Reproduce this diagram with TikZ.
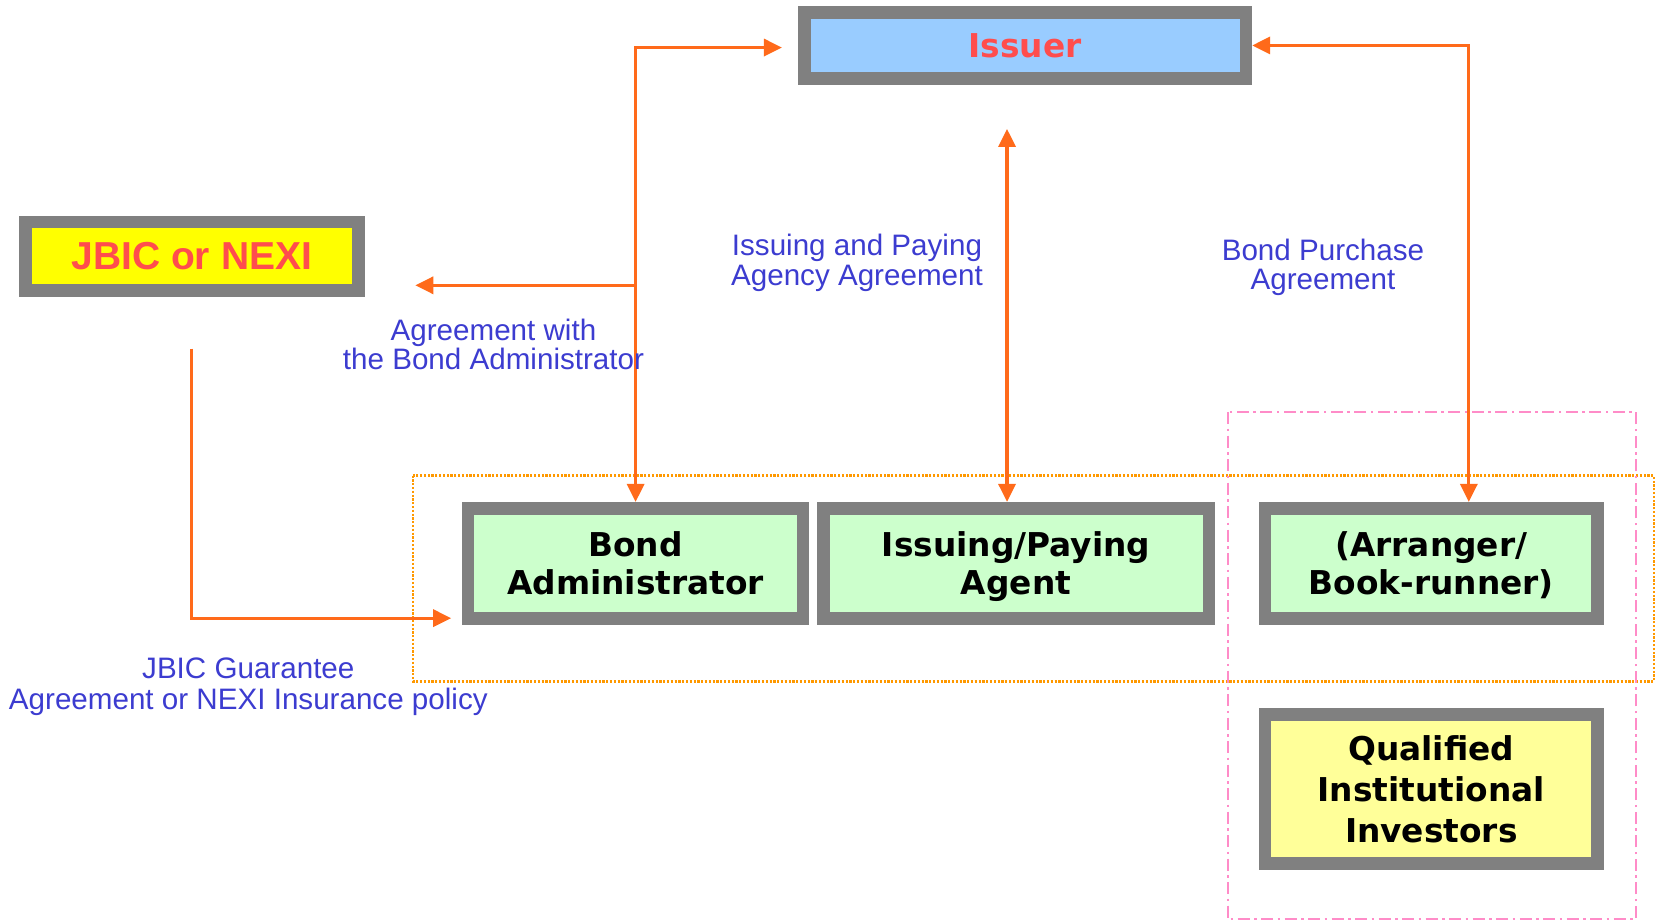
\documentclass[tikz,border=0pt]{standalone}
\usepackage{fontspec}
\setmainfont{Liberation Sans}
\newfontfamily\boxfont{DejaVu Sans}
\usetikzlibrary{arrows.meta}
\definecolor{boxgray}{HTML}{808080}
\definecolor{issuerblue}{HTML}{99CCFF}
\definecolor{jbicyellow}{HTML}{FFFF00}
\definecolor{paleyellow}{HTML}{FFFF99}
\definecolor{palegreen}{HTML}{CCFFCC}
\definecolor{redtext}{HTML}{FF4D4D}
\definecolor{labelblue}{HTML}{3C3CD0}
\definecolor{arroworange}{HTML}{FF6A1A}
\definecolor{dotorange}{HTML}{FF9900}
\definecolor{dashpink}{HTML}{FF8CC8}
\tikzset{
  gbox/.style={draw=boxgray, line width=12.7pt, inner sep=0pt, align=center, text depth=0pt},
  boxtext/.style={font=\boxfont\bfseries\fontsize{32.8}{38}\selectfont},
  lbl/.style={text=labelblue, align=center, inner sep=0pt, font=\fontsize{29.6}{29.6}\selectfont},
  arr/.style={draw=arroworange, line width=3.2pt, -{Triangle[length=18pt,width=17pt]}},
  darr/.style={draw=arroworange, line width=3.2pt, {Triangle[length=18pt,width=17pt]}-{Triangle[length=18pt,width=17pt]}},
}
\begin{document}
\begin{tikzpicture}[x=1.0567pt,y=-1.0567pt]
\useasboundingbox (0,0) rectangle (1568.1,870.6);
% group frames
\draw[dotorange, line width=2.2pt, dash pattern=on 2.2pt off 1.6pt] (391,450) rectangle (1565,645);
\draw[dashpink, line width=1.7pt, dash pattern=on 12pt off 4.5pt on 2.5pt off 4.5pt] (1162,390) rectangle (1548,870);
% boxes
\node[gbox, fill=issuerblue, minimum width=441.7pt, minimum height=65.5pt,
      font=\boxfont\bfseries\fontsize{32.8}{38}\selectfont, text=redtext] (issuer) at (970,43) {Issuer};
\node[gbox, fill=jbicyellow, minimum width=332.9pt, minimum height=68.7pt,
      font=\bfseries\fontsize{39}{40}\selectfont, text=redtext] (jbic) at (181.5,242.5) {JBIC or NEXI};
\node[gbox, boxtext, fill=palegreen, minimum width=335pt, minimum height=109.9pt] (ba) at (601.5,533) {Bond\\Administrator};
\node[gbox, boxtext, fill=palegreen, minimum width=385.7pt, minimum height=109.9pt] (ipa) at (961.5,533) {Issuing/Paying\\Agent};
\node[gbox, boxtext, fill=palegreen, minimum width=332.9pt, minimum height=109.9pt] (ar) at (1354.5,533) {(Arranger/\\Book-runner)};
\node[gbox, fill=paleyellow, minimum width=332.9pt, minimum height=149pt,
      font=\boxfont\bfseries\fontsize{32.8}{41.2}\selectfont] (qii) at (1354.5,746.5) {Qualified\\Institutional\\Investors};
% connector points
\coordinate (issL) at (740,45);
\coordinate (branch) at (601,270);
\coordinate (jbicR) at (393,270);
\coordinate (issB) at (953,122);
\coordinate (arTop) at (1390,475);
\coordinate (jbicB) at (181,330);
\coordinate (baL) at (427,585);
% connectors
\draw[darr] (issL) -| (ba.north);
\draw[arr] (branch) -- (jbicR);
\draw[darr] (issB) -- (issB |- ipa.north);
\draw[darr] (issuer.east) -| (arTop);
\draw[arr] (jbicB) |- (baL);
% labels
\node[lbl] (l1) at (467,326) {Agreement with\\the Bond Administrator};
\node[lbl] (l2) at (811,249) {Issuing and Paying\\Agency Agreement};
\node[lbl] (l3) at (1252,253) {Bond Purchase\\Agreement};
\node[lbl, font=\fontsize{29.6}{31.7}\selectfont] (l4) at (235,650) {JBIC Guarantee\\Agreement or NEXI Insurance policy};
\end{tikzpicture}
\end{document}
